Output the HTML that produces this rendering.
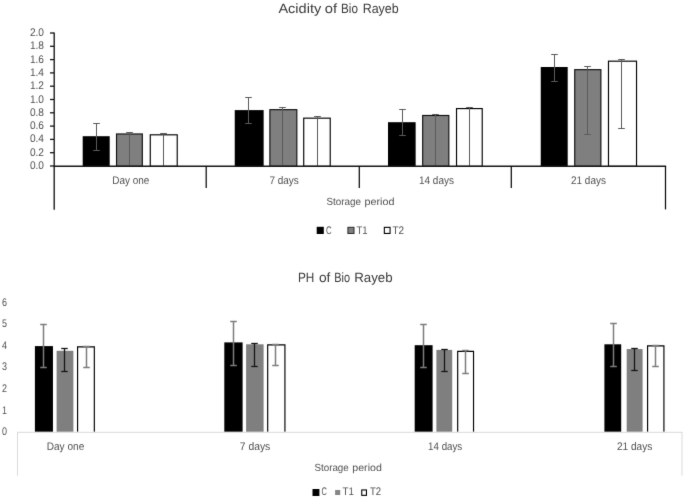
<!DOCTYPE html>
<html><head><meta charset="utf-8"><title>Bio Rayeb charts</title>
<style>
html,body{margin:0;padding:0;background:#fff;}
svg{display:block;font-family:"Liberation Sans", sans-serif;text-rendering:geometricPrecision;}
</style></head><body>
<svg width="685" height="498" viewBox="0 0 685 498">
<defs><filter id="soft" x="0" y="0" width="685" height="498" filterUnits="userSpaceOnUse" color-interpolation-filters="sRGB"><feConvolveMatrix order="3" kernelMatrix="0.00741 0.07126 0.00741 0.07126 0.68530 0.07126 0.00741 0.07126 0.00741" edgeMode="duplicate" preserveAlpha="false"/></filter></defs>
<rect x="0" y="0" width="685" height="498" fill="#ffffff"/>
<g filter="url(#soft)">
<rect x="0" y="0" width="685" height="498" fill="#ffffff"/>
<text x="278.40" y="12.50" font-size="13.4" fill="#3a3a3a" font-weight="normal" textLength="42.80" lengthAdjust="spacingAndGlyphs">Acidity</text>
<text x="324.70" y="12.50" font-size="13.4" fill="#3a3a3a" font-weight="normal" textLength="12.30" lengthAdjust="spacingAndGlyphs">of</text>
<text x="341.00" y="12.50" font-size="13.4" fill="#3a3a3a" font-weight="normal" textLength="16.90" lengthAdjust="spacingAndGlyphs">Bio</text>
<text x="362.70" y="12.50" font-size="13.4" fill="#3a3a3a" font-weight="normal" textLength="36.00" lengthAdjust="spacingAndGlyphs">Rayeb</text>
<text x="29.90" y="169.00" font-size="11" fill="#505050" font-weight="normal" textLength="14.10" lengthAdjust="spacingAndGlyphs">0.0</text>
<line x1="50.00" y1="166.00" x2="54.00" y2="166.00" stroke="#161616" stroke-width="1.3"/>
<text x="29.90" y="155.70" font-size="11" fill="#505050" font-weight="normal" textLength="14.10" lengthAdjust="spacingAndGlyphs">0.2</text>
<line x1="50.00" y1="152.70" x2="54.00" y2="152.70" stroke="#161616" stroke-width="1.3"/>
<text x="29.90" y="142.40" font-size="11" fill="#505050" font-weight="normal" textLength="14.10" lengthAdjust="spacingAndGlyphs">0.4</text>
<line x1="50.00" y1="139.40" x2="54.00" y2="139.40" stroke="#161616" stroke-width="1.3"/>
<text x="29.90" y="129.10" font-size="11" fill="#505050" font-weight="normal" textLength="14.10" lengthAdjust="spacingAndGlyphs">0.6</text>
<line x1="50.00" y1="126.10" x2="54.00" y2="126.10" stroke="#161616" stroke-width="1.3"/>
<text x="29.90" y="115.80" font-size="11" fill="#505050" font-weight="normal" textLength="14.10" lengthAdjust="spacingAndGlyphs">0.8</text>
<line x1="50.00" y1="112.80" x2="54.00" y2="112.80" stroke="#161616" stroke-width="1.3"/>
<text x="29.90" y="102.50" font-size="11" fill="#505050" font-weight="normal" textLength="14.10" lengthAdjust="spacingAndGlyphs">1.0</text>
<line x1="50.00" y1="99.50" x2="54.00" y2="99.50" stroke="#161616" stroke-width="1.3"/>
<text x="29.90" y="89.20" font-size="11" fill="#505050" font-weight="normal" textLength="14.10" lengthAdjust="spacingAndGlyphs">1.2</text>
<line x1="50.00" y1="86.20" x2="54.00" y2="86.20" stroke="#161616" stroke-width="1.3"/>
<text x="29.90" y="75.90" font-size="11" fill="#505050" font-weight="normal" textLength="14.10" lengthAdjust="spacingAndGlyphs">1.4</text>
<line x1="50.00" y1="72.90" x2="54.00" y2="72.90" stroke="#161616" stroke-width="1.3"/>
<text x="29.90" y="62.60" font-size="11" fill="#505050" font-weight="normal" textLength="14.10" lengthAdjust="spacingAndGlyphs">1.6</text>
<line x1="50.00" y1="59.60" x2="54.00" y2="59.60" stroke="#161616" stroke-width="1.3"/>
<text x="29.90" y="49.30" font-size="11" fill="#505050" font-weight="normal" textLength="14.10" lengthAdjust="spacingAndGlyphs">1.8</text>
<line x1="50.00" y1="46.30" x2="54.00" y2="46.30" stroke="#161616" stroke-width="1.3"/>
<text x="29.90" y="36.00" font-size="11" fill="#505050" font-weight="normal" textLength="14.10" lengthAdjust="spacingAndGlyphs">2.0</text>
<line x1="50.00" y1="33.00" x2="54.00" y2="33.00" stroke="#161616" stroke-width="1.3"/>
<rect x="82.70" y="136.20" width="27.00" height="30.70" fill="#000000"/>
<line x1="96.50" y1="123.50" x2="96.50" y2="150.50" stroke="#5a5a5a" stroke-width="1.0"/>
<line x1="93.20" y1="123.50" x2="99.80" y2="123.50" stroke="#5a5a5a" stroke-width="1.0"/>
<line x1="93.20" y1="150.50" x2="99.80" y2="150.50" stroke="#5a5a5a" stroke-width="1.0"/>
<rect x="116.53" y="133.97" width="25.80" height="32.35" fill="#7f7f7f" stroke="#101010" stroke-width="1.15"/>
<line x1="129.50" y1="132.50" x2="129.50" y2="166.00" stroke="#5a5a5a" stroke-width="1.0"/>
<line x1="126.20" y1="132.50" x2="132.80" y2="132.50" stroke="#5a5a5a" stroke-width="1.0"/>
<rect x="150.27" y="134.82" width="26.95" height="31.50" fill="#ffffff" stroke="#000000" stroke-width="1.15"/>
<line x1="163.50" y1="133.50" x2="163.50" y2="166.00" stroke="#5a5a5a" stroke-width="1.0"/>
<line x1="160.20" y1="133.50" x2="166.80" y2="133.50" stroke="#5a5a5a" stroke-width="1.0"/>
<rect x="234.75" y="110.10" width="28.90" height="56.80" fill="#000000"/>
<line x1="248.50" y1="97.50" x2="248.50" y2="123.50" stroke="#5a5a5a" stroke-width="1.0"/>
<line x1="245.20" y1="97.50" x2="251.80" y2="97.50" stroke="#5a5a5a" stroke-width="1.0"/>
<line x1="245.20" y1="123.50" x2="251.80" y2="123.50" stroke="#5a5a5a" stroke-width="1.0"/>
<rect x="269.88" y="109.67" width="26.95" height="56.65" fill="#7f7f7f" stroke="#101010" stroke-width="1.15"/>
<line x1="282.50" y1="107.50" x2="282.50" y2="166.00" stroke="#5a5a5a" stroke-width="1.0"/>
<line x1="279.20" y1="107.50" x2="285.80" y2="107.50" stroke="#5a5a5a" stroke-width="1.0"/>
<rect x="303.72" y="118.17" width="26.50" height="48.15" fill="#ffffff" stroke="#000000" stroke-width="1.15"/>
<line x1="317.50" y1="116.50" x2="317.50" y2="166.00" stroke="#5a5a5a" stroke-width="1.0"/>
<line x1="314.20" y1="116.50" x2="320.80" y2="116.50" stroke="#5a5a5a" stroke-width="1.0"/>
<rect x="388.00" y="122.20" width="27.65" height="44.70" fill="#000000"/>
<line x1="402.50" y1="109.50" x2="402.50" y2="135.50" stroke="#5a5a5a" stroke-width="1.0"/>
<line x1="399.20" y1="109.50" x2="405.80" y2="109.50" stroke="#5a5a5a" stroke-width="1.0"/>
<line x1="399.20" y1="135.50" x2="405.80" y2="135.50" stroke="#5a5a5a" stroke-width="1.0"/>
<rect x="422.68" y="115.48" width="26.15" height="50.85" fill="#7f7f7f" stroke="#101010" stroke-width="1.15"/>
<line x1="435.50" y1="114.50" x2="435.50" y2="166.00" stroke="#5a5a5a" stroke-width="1.0"/>
<line x1="432.20" y1="114.50" x2="438.80" y2="114.50" stroke="#5a5a5a" stroke-width="1.0"/>
<rect x="456.53" y="108.58" width="25.69" height="57.75" fill="#ffffff" stroke="#000000" stroke-width="1.15"/>
<line x1="469.50" y1="107.50" x2="469.50" y2="166.00" stroke="#5a5a5a" stroke-width="1.0"/>
<line x1="466.20" y1="107.50" x2="472.80" y2="107.50" stroke="#5a5a5a" stroke-width="1.0"/>
<rect x="540.75" y="67.00" width="26.95" height="99.90" fill="#000000"/>
<line x1="554.50" y1="54.50" x2="554.50" y2="81.50" stroke="#5a5a5a" stroke-width="1.0"/>
<line x1="551.20" y1="54.50" x2="557.80" y2="54.50" stroke="#5a5a5a" stroke-width="1.0"/>
<line x1="551.20" y1="81.50" x2="557.80" y2="81.50" stroke="#5a5a5a" stroke-width="1.0"/>
<rect x="574.73" y="69.67" width="26.15" height="96.65" fill="#7f7f7f" stroke="#101010" stroke-width="1.15"/>
<line x1="587.50" y1="66.50" x2="587.50" y2="134.50" stroke="#5a5a5a" stroke-width="1.0"/>
<line x1="584.20" y1="66.50" x2="590.80" y2="66.50" stroke="#5a5a5a" stroke-width="1.0"/>
<line x1="584.20" y1="134.50" x2="590.80" y2="134.50" stroke="#5a5a5a" stroke-width="1.0"/>
<rect x="608.48" y="61.18" width="28.05" height="105.15" fill="#ffffff" stroke="#000000" stroke-width="1.15"/>
<line x1="621.50" y1="59.50" x2="621.50" y2="128.50" stroke="#5a5a5a" stroke-width="1.0"/>
<line x1="618.20" y1="59.50" x2="624.80" y2="59.50" stroke="#5a5a5a" stroke-width="1.0"/>
<line x1="618.20" y1="128.50" x2="624.80" y2="128.50" stroke="#5a5a5a" stroke-width="1.0"/>
<line x1="54.20" y1="32.40" x2="54.20" y2="209.80" stroke="#161616" stroke-width="1.35"/>
<line x1="53.60" y1="166.25" x2="666.10" y2="166.25" stroke="#161616" stroke-width="1.4"/>
<line x1="206.20" y1="166.00" x2="206.20" y2="188.00" stroke="#0a0a0a" stroke-width="1.25"/>
<line x1="359.30" y1="166.00" x2="359.30" y2="188.00" stroke="#0a0a0a" stroke-width="1.25"/>
<line x1="511.30" y1="166.00" x2="511.30" y2="188.00" stroke="#0a0a0a" stroke-width="1.25"/>
<line x1="665.50" y1="166.00" x2="665.50" y2="209.40" stroke="#0a0a0a" stroke-width="1.25"/>
<text x="112.30" y="183.60" font-size="11" fill="#505050" font-weight="normal" textLength="37.10" lengthAdjust="spacingAndGlyphs">Day one</text>
<text x="269.40" y="183.60" font-size="11" fill="#505050" font-weight="normal" textLength="29.40" lengthAdjust="spacingAndGlyphs">7 days</text>
<text x="419.00" y="183.60" font-size="11" fill="#505050" font-weight="normal" textLength="34.90" lengthAdjust="spacingAndGlyphs">14 days</text>
<text x="571.00" y="183.60" font-size="11" fill="#505050" font-weight="normal" textLength="34.90" lengthAdjust="spacingAndGlyphs">21 days</text>
<text x="326.40" y="204.90" font-size="10.3" fill="#505050" font-weight="normal" textLength="34.70" lengthAdjust="spacingAndGlyphs">Storage</text>
<text x="364.40" y="204.90" font-size="10.3" fill="#505050" font-weight="normal" textLength="30.00" lengthAdjust="spacingAndGlyphs">period</text>
<rect x="316.70" y="226.80" width="7.10" height="7.20" fill="#000"/>
<text x="326.10" y="233.60" font-size="11" fill="#505050" font-weight="normal" textLength="5.70" lengthAdjust="spacingAndGlyphs">C</text>
<rect x="347.90" y="227.30" width="6.10" height="6.20" fill="#7f7f7f" stroke="#2b2b2b" stroke-width="1"/>
<text x="356.40" y="233.60" font-size="11" fill="#505050" font-weight="normal" textLength="11.20" lengthAdjust="spacingAndGlyphs">T1</text>
<rect x="384.35" y="227.35" width="5.70" height="6.10" fill="#fff" stroke="#000" stroke-width="1.1"/>
<text x="392.40" y="233.60" font-size="11" fill="#505050" font-weight="normal" textLength="11.60" lengthAdjust="spacingAndGlyphs">T2</text>
<text x="298.00" y="282.00" font-size="13.4" fill="#3a3a3a" font-weight="normal" textLength="16.40" lengthAdjust="spacingAndGlyphs">PH</text>
<text x="318.90" y="282.00" font-size="13.4" fill="#3a3a3a" font-weight="normal" textLength="11.50" lengthAdjust="spacingAndGlyphs">of</text>
<text x="334.20" y="282.00" font-size="13.4" fill="#3a3a3a" font-weight="normal" textLength="15.80" lengthAdjust="spacingAndGlyphs">Bio</text>
<text x="354.20" y="282.00" font-size="13.4" fill="#3a3a3a" font-weight="normal" textLength="38.40" lengthAdjust="spacingAndGlyphs">Rayeb</text>
<text x="2.00" y="435.10" font-size="11" fill="#505050" font-weight="normal" textLength="5.00" lengthAdjust="spacingAndGlyphs">0</text>
<text x="2.00" y="413.52" font-size="11" fill="#505050" font-weight="normal" textLength="5.00" lengthAdjust="spacingAndGlyphs">1</text>
<text x="2.00" y="391.94" font-size="11" fill="#505050" font-weight="normal" textLength="5.00" lengthAdjust="spacingAndGlyphs">2</text>
<text x="2.00" y="370.36" font-size="11" fill="#505050" font-weight="normal" textLength="5.00" lengthAdjust="spacingAndGlyphs">3</text>
<text x="2.00" y="348.78" font-size="11" fill="#505050" font-weight="normal" textLength="5.00" lengthAdjust="spacingAndGlyphs">4</text>
<text x="2.00" y="327.20" font-size="11" fill="#505050" font-weight="normal" textLength="5.00" lengthAdjust="spacingAndGlyphs">5</text>
<text x="2.00" y="305.62" font-size="11" fill="#505050" font-weight="normal" textLength="5.00" lengthAdjust="spacingAndGlyphs">6</text>
<rect x="34.90" y="346.10" width="18.05" height="85.70" fill="#000"/>
<line x1="43.50" y1="324.50" x2="43.50" y2="367.50" stroke="#7c7c7c" stroke-width="1.5"/>
<line x1="40.20" y1="324.50" x2="46.80" y2="324.50" stroke="#7c7c7c" stroke-width="1.5"/>
<line x1="40.20" y1="367.50" x2="46.80" y2="367.50" stroke="#7c7c7c" stroke-width="1.5"/>
<rect x="56.60" y="350.80" width="16.80" height="81.00" fill="#7f7f7f"/>
<line x1="64.50" y1="348.50" x2="64.50" y2="371.50" stroke="#141414" stroke-width="1.3"/>
<line x1="61.25" y1="348.50" x2="67.75" y2="348.50" stroke="#141414" stroke-width="1.3"/>
<line x1="61.25" y1="371.50" x2="67.75" y2="371.50" stroke="#141414" stroke-width="1.3"/>
<path d="M77.58 431.80 V346.88 H94.33 V431.80" fill="#ffffff" stroke="#000000" stroke-width="1.15"/>
<line x1="86.50" y1="346.50" x2="86.50" y2="367.50" stroke="#7c7c7c" stroke-width="1.5"/>
<line x1="83.20" y1="346.50" x2="89.80" y2="346.50" stroke="#7c7c7c" stroke-width="1.5"/>
<line x1="83.20" y1="367.50" x2="89.80" y2="367.50" stroke="#7c7c7c" stroke-width="1.5"/>
<rect x="224.30" y="342.40" width="18.30" height="89.40" fill="#000"/>
<line x1="233.50" y1="321.50" x2="233.50" y2="365.50" stroke="#7c7c7c" stroke-width="1.5"/>
<line x1="230.20" y1="321.50" x2="236.80" y2="321.50" stroke="#7c7c7c" stroke-width="1.5"/>
<line x1="230.20" y1="365.50" x2="236.80" y2="365.50" stroke="#7c7c7c" stroke-width="1.5"/>
<rect x="246.10" y="344.30" width="17.50" height="87.50" fill="#7f7f7f"/>
<line x1="254.50" y1="343.50" x2="254.50" y2="366.50" stroke="#141414" stroke-width="1.3"/>
<line x1="251.25" y1="343.50" x2="257.75" y2="343.50" stroke="#141414" stroke-width="1.3"/>
<line x1="251.25" y1="366.50" x2="257.75" y2="366.50" stroke="#141414" stroke-width="1.3"/>
<path d="M267.68 431.80 V344.88 H284.93 V431.80" fill="#ffffff" stroke="#000000" stroke-width="1.15"/>
<line x1="275.50" y1="344.50" x2="275.50" y2="365.50" stroke="#7c7c7c" stroke-width="1.5"/>
<line x1="272.20" y1="344.50" x2="278.80" y2="344.50" stroke="#7c7c7c" stroke-width="1.5"/>
<line x1="272.20" y1="365.50" x2="278.80" y2="365.50" stroke="#7c7c7c" stroke-width="1.5"/>
<rect x="414.70" y="345.20" width="17.90" height="86.60" fill="#000"/>
<line x1="423.50" y1="324.50" x2="423.50" y2="367.50" stroke="#7c7c7c" stroke-width="1.5"/>
<line x1="420.20" y1="324.50" x2="426.80" y2="324.50" stroke="#7c7c7c" stroke-width="1.5"/>
<line x1="420.20" y1="367.50" x2="426.80" y2="367.50" stroke="#7c7c7c" stroke-width="1.5"/>
<rect x="436.40" y="349.90" width="15.80" height="81.90" fill="#7f7f7f"/>
<line x1="444.50" y1="349.50" x2="444.50" y2="371.50" stroke="#141414" stroke-width="1.3"/>
<line x1="441.25" y1="349.50" x2="447.75" y2="349.50" stroke="#141414" stroke-width="1.3"/>
<line x1="441.25" y1="371.50" x2="447.75" y2="371.50" stroke="#141414" stroke-width="1.3"/>
<path d="M457.68 431.80 V351.38 H473.53 V431.80" fill="#ffffff" stroke="#000000" stroke-width="1.15"/>
<line x1="465.50" y1="350.50" x2="465.50" y2="373.50" stroke="#7c7c7c" stroke-width="1.5"/>
<line x1="462.20" y1="350.50" x2="468.80" y2="350.50" stroke="#7c7c7c" stroke-width="1.5"/>
<line x1="462.20" y1="373.50" x2="468.80" y2="373.50" stroke="#7c7c7c" stroke-width="1.5"/>
<rect x="604.40" y="344.30" width="16.80" height="87.50" fill="#000"/>
<line x1="613.50" y1="323.50" x2="613.50" y2="366.50" stroke="#7c7c7c" stroke-width="1.5"/>
<line x1="610.20" y1="323.50" x2="616.80" y2="323.50" stroke="#7c7c7c" stroke-width="1.5"/>
<line x1="610.20" y1="366.50" x2="616.80" y2="366.50" stroke="#7c7c7c" stroke-width="1.5"/>
<rect x="626.70" y="349.05" width="15.90" height="82.75" fill="#7f7f7f"/>
<line x1="634.50" y1="348.50" x2="634.50" y2="370.50" stroke="#141414" stroke-width="1.3"/>
<line x1="631.25" y1="348.50" x2="637.75" y2="348.50" stroke="#141414" stroke-width="1.3"/>
<line x1="631.25" y1="370.50" x2="637.75" y2="370.50" stroke="#141414" stroke-width="1.3"/>
<path d="M647.58 431.80 V345.88 H663.92 V431.80" fill="#ffffff" stroke="#000000" stroke-width="1.15"/>
<line x1="655.50" y1="345.50" x2="655.50" y2="366.50" stroke="#7c7c7c" stroke-width="1.5"/>
<line x1="652.20" y1="345.50" x2="658.80" y2="345.50" stroke="#7c7c7c" stroke-width="1.5"/>
<line x1="652.20" y1="366.50" x2="658.80" y2="366.50" stroke="#7c7c7c" stroke-width="1.5"/>
<line x1="17.00" y1="432.30" x2="682.50" y2="432.30" stroke="#d9d9d9" stroke-width="1"/>
<line x1="17.50" y1="432.30" x2="17.50" y2="475.75" stroke="#d9d9d9" stroke-width="1"/>
<line x1="682.00" y1="432.30" x2="682.00" y2="475.75" stroke="#d9d9d9" stroke-width="1"/>
<text x="46.75" y="449.70" font-size="11" fill="#505050" font-weight="normal" textLength="37.50" lengthAdjust="spacingAndGlyphs">Day one</text>
<text x="239.75" y="449.70" font-size="11" fill="#505050" font-weight="normal" textLength="30.50" lengthAdjust="spacingAndGlyphs">7 days</text>
<text x="428.10" y="449.70" font-size="11" fill="#505050" font-weight="normal" textLength="34.10" lengthAdjust="spacingAndGlyphs">14 days</text>
<text x="617.00" y="449.70" font-size="11" fill="#505050" font-weight="normal" textLength="35.25" lengthAdjust="spacingAndGlyphs">21 days</text>
<text x="314.40" y="471.10" font-size="10.3" fill="#505050" font-weight="normal" textLength="34.40" lengthAdjust="spacingAndGlyphs">Storage</text>
<text x="352.30" y="471.10" font-size="10.3" fill="#505050" font-weight="normal" textLength="29.50" lengthAdjust="spacingAndGlyphs">period</text>
<rect x="312.50" y="489.00" width="6.90" height="7.00" fill="#000"/>
<text x="321.40" y="495.10" font-size="11" fill="#505050" font-weight="normal" textLength="5.40" lengthAdjust="spacingAndGlyphs">C</text>
<rect x="335.10" y="490.00" width="5.10" height="5.00" fill="#858585"/>
<text x="342.60" y="495.10" font-size="11" fill="#505050" font-weight="normal" textLength="11.30" lengthAdjust="spacingAndGlyphs">T1</text>
<rect x="361.75" y="489.95" width="4.70" height="5.40" fill="#fff" stroke="#000" stroke-width="1.1"/>
<text x="369.90" y="495.10" font-size="11" fill="#505050" font-weight="normal" textLength="11.10" lengthAdjust="spacingAndGlyphs">T2</text>
</g>
</svg>
</body></html>
